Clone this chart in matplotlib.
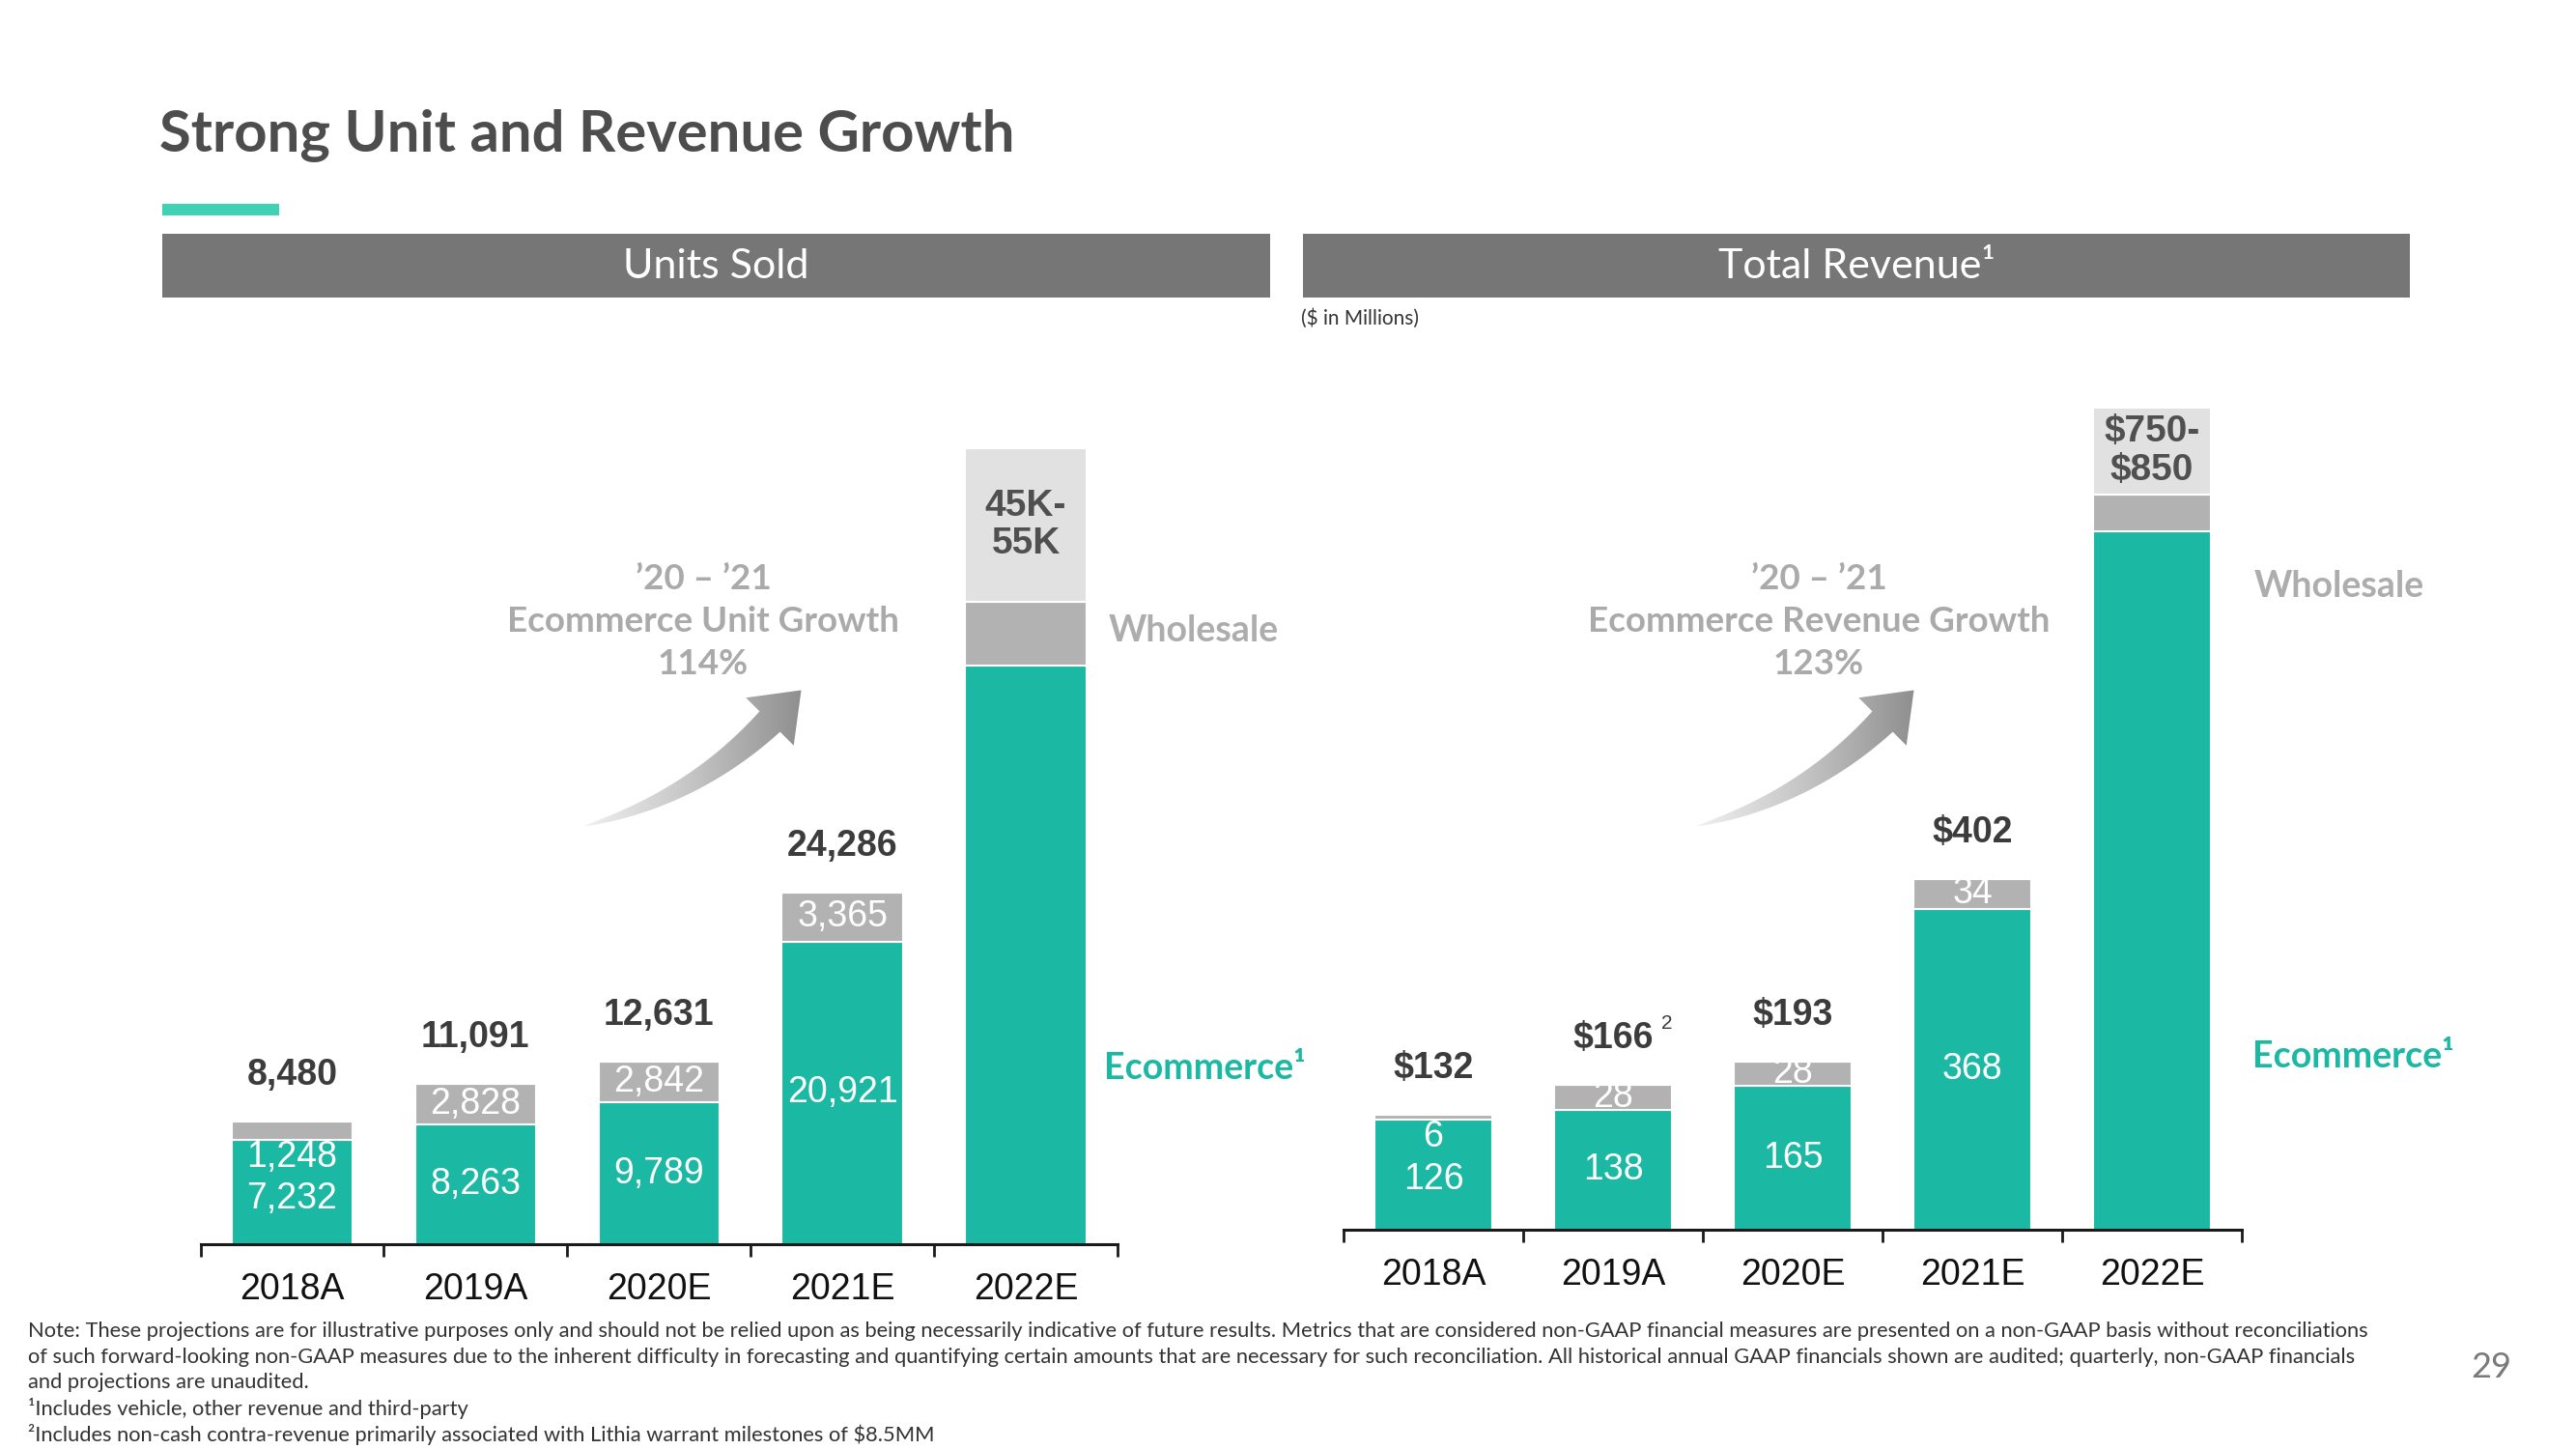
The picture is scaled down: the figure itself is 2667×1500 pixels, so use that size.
import matplotlib
matplotlib.use('Agg')
import matplotlib.pyplot as plt
import numpy as np
from matplotlib.patches import Rectangle, Polygon
from matplotlib.colors import LinearSegmentedColormap

# ---------------- data ----------------
years = ['2018A', '2019A', '2020E', '2021E', '2022E']

units_ecom = [7232, 8263, 9789, 20921, 40000]
units_wholesale = [1248, 2828, 2842, 3365, 4400]
units_range = [0, 0, 0, 0, 10600]
units_total_labels = ['8,480', '11,091', '12,631', '24,286', '45K-\n55K']
units_ecom_labels = ['7,232', '8,263', '9,789', '20,921', '']
units_wh_labels = ['1,248', '2,828', '2,842', '3,365', '']

rev_ecom = [126, 138, 165, 368, 800]
rev_wholesale = [6, 28, 28, 34, 42]
rev_range = [0, 0, 0, 0, 100]
rev_total_labels = ['$132', '$166', '$193', '$402', '$750-\n$850']
rev_ecom_labels = ['126', '138', '165', '368', '']
rev_wh_labels = ['6', '28', '28', '34', '']

title = 'Strong Unit and Revenue Growth'
footnotes = [
    'Note: These projections are for illustrative purposes only and should not be relied upon as being necessarily indicative of future results. Metrics that are considered non-GAAP financial measures are presented on a non-GAAP basis without reconciliations',
    'of such forward-looking non-GAAP measures due to the inherent difficulty in forecasting and quantifying certain amounts that are necessary for such reconciliation. All historical annual GAAP financials shown are audited; quarterly, non-GAAP financials',
    'and projections are unaudited.',
    '\u00b9Includes vehicle, other revenue and third-party',
    '\u00b2Includes non-cash contra-revenue primarily associated with Lithia warrant milestones of $8.5MM',
]

# ---------------- style ----------------
TEAL = '#1bb8a4'
GRAY = '#b2b2b2'
LIGHT = '#e1e1e1'
DARK = '#3c3c3c'
ANN = '#aaaaaa'
NUMFONT = ['Liberation Sans', 'DejaVu Sans']
TXTFONT = ['Lato', 'DejaVu Sans']
NUMSIZE = 27

W, H = 2667, 1500
fig = plt.figure(figsize=(W / 100, H / 100), dpi=100)
fig.patch.set_facecolor('white')

bg = fig.add_axes([0, 0, 1, 1], zorder=0)
bg.axis('off')


def rect(left, bottom, width, height):
    return [left / W, 1 - bottom / H, width / W, height / H]


def draw_chart(ax, ecom, wh, rng, tot_labels, ecom_labels, wh_labels, ymax, small):
    x = np.arange(len(years))
    ecom = np.array(ecom, float)
    wh = np.array(wh, float)
    rng = np.array(rng, float)
    bw = 0.66
    ax.bar(x, ecom, width=bw, color=TEAL, edgecolor='white', linewidth=1.5, zorder=2)
    ax.bar(x, wh, bottom=ecom, width=bw, color=GRAY, edgecolor='white', linewidth=1.5, zorder=2)
    ax.bar(x, rng, bottom=ecom + wh, width=bw, color=LIGHT, edgecolor='white', linewidth=1.5, zorder=2)
    ax.set_xlim(-0.5, 4.5)
    ax.set_ylim(0, ymax)
    ax.patch.set_alpha(0)
    for s in ['top', 'left', 'right']:
        ax.spines[s].set_visible(False)
    ax.spines['bottom'].set_linewidth(2.2)
    ax.spines['bottom'].set_color('#1a1a1a')
    ax.set_yticks([])
    ax.set_xticks(x)
    ax.set_xticklabels(years, fontsize=NUMSIZE, family=NUMFONT, color='#111111')
    ax.tick_params(axis='x', which='major', length=0, pad=21)
    ax.set_xticks(np.arange(-0.5, 5, 1), minor=True)
    ax.tick_params(axis='x', which='minor', length=9, width=2, direction='out', color='#1a1a1a')
    for i in x:
        top = ecom[i] + wh[i]
        if rng[i] > 0:
            ax.text(i, top + rng[i] / 2, tot_labels[i], ha='center', va='center', fontsize=28,
                    fontweight='bold', family=NUMFONT, color='#505050', linespacing=1.12, zorder=3)
        else:
            ax.annotate(tot_labels[i], (i, top), xytext=(0, 34.5), textcoords='offset points',
                        ha='center', va='center', fontsize=NUMSIZE, fontweight='bold', family=NUMFONT,
                        color=DARK, zorder=3)
        if ecom_labels[i]:
            if wh[i] < small:
                ax.annotate(wh_labels[i], (i, ecom[i]), xytext=(0, -13), textcoords='offset points',
                            ha='center', va='center', fontsize=NUMSIZE, family=NUMFONT, color='white', zorder=3)
                ax.annotate(ecom_labels[i], (i, ecom[i]), xytext=(0, -44), textcoords='offset points',
                            ha='center', va='center', fontsize=NUMSIZE, family=NUMFONT, color='white', zorder=3)
            else:
                ax.text(i, ecom[i] / 2, ecom_labels[i], ha='center', va='center', fontsize=NUMSIZE,
                        family=NUMFONT, color='white', zorder=3)
                ax.text(i, ecom[i] + wh[i] / 2, wh_labels[i], ha='center', va='center', fontsize=NUMSIZE,
                        family=NUMFONT, color='white', zorder=3)


ax1 = fig.add_axes(rect(207.5, 1288, 949.5, 898.8), zorder=1)
draw_chart(ax1, units_ecom, units_wholesale, units_range, units_total_labels,
           units_ecom_labels, units_wh_labels, 60000, 2000)

ax2 = fig.add_axes(rect(1391, 1273.3, 930, 904), zorder=1)
draw_chart(ax2, rev_ecom, rev_wholesale, rev_range, rev_total_labels,
           rev_ecom_labels, rev_wh_labels, 1000, 10)
ax2.annotate('2', (1, rev_ecom[1] + rev_wholesale[1]), xytext=(40, 46), textcoords='offset points',
             ha='center', va='center', fontsize=15, family=NUMFONT, color=DARK)

# ---------------- gradient arrows ----------------
cmap = LinearSegmentedColormap.from_list('arr', ['#f0f0f0', '#c4c4c4', '#8f8f8f'])


def arrow(dx):
    P0 = np.array([605.0 + dx, 855.0])
    C = np.array([717.0 + dx, 827.0])
    Hh = np.array([797.0 + dx, 747.0])
    t = np.linspace(0, 1, 60)[:, None]
    B = (1 - t) ** 2 * P0 + 2 * (1 - t) * t * C + t ** 2 * Hh
    T = 2 * (1 - t) * (C - P0) + 2 * t * (Hh - C)
    T = T / np.linalg.norm(T, axis=1, keepdims=True)
    N = np.column_stack([-T[:, 1], T[:, 0]])
    w = 15.0 * t[:, 0] ** 0.75
    s1 = B + N * w[:, None]
    s2 = B - N * w[:, None]
    d = T[-1]
    n = N[-1]
    head = [Hh + n * 35, Hh + d * 46, Hh - n * 35]
    pts = np.vstack([s1, head, s2[::-1]])
    poly = Polygon(pts, closed=True, facecolor='none', edgecolor='none')
    bg.add_patch(poly)
    grad = np.linspace(0, 1, 256)[None, :]
    im = bg.imshow(grad, cmap=cmap, aspect='auto',
                   extent=(pts[:, 0].min(), pts[:, 0].max(), pts[:, 1].max(), pts[:, 1].min()),
                   zorder=1)
    im.set_clip_path(poly)


arrow(0)
arrow(1152)
bg.set_xlim(0, W)
bg.set_ylim(H, 0)

# ---------------- header / decoration ----------------
bg.text(165, 141, title, ha='left', va='center', fontsize=43, fontweight='bold',
        family=TXTFONT, color='#4d4d4d')
bg.add_patch(Rectangle((168, 211), 121, 12, facecolor='#40d2b4', edgecolor='none'))
bg.add_patch(Rectangle((168, 241.5), 1147, 66.5, facecolor='#767676', edgecolor='none'))
bg.add_patch(Rectangle((1349, 241.5), 1146, 66.5, facecolor='#767676', edgecolor='none'))
bg.text(741.5, 276, 'Units Sold', ha='center', va='center', fontsize=31, family=TXTFONT, color='white')
bg.text(1922, 276, 'Total Revenue\u00b9', ha='center', va='center', fontsize=31, family=TXTFONT, color='white')
bg.text(1347, 330, '($ in Millions)', ha='left', va='center', fontsize=15, family=TXTFONT, color='#333333')

for cx, lines in [(728, ['\u201920 \u2013 \u201921', 'Ecommerce Unit Growth', '114%']),
                  (1883, ['\u201920 \u2013 \u201921', 'Ecommerce Revenue Growth', '123%'])]:
    for k, ln in enumerate(lines):
        bg.text(cx, 599 + 44 * k, ln, ha='center', va='center', fontsize=26.5, fontweight='bold',
                family=TXTFONT, color=ANN, zorder=3)

bg.text(1148, 653, 'Wholesale', ha='left', va='center', fontsize=27, fontweight='bold',
        family=TXTFONT, color='#adadad')
bg.text(2334, 607, 'Wholesale', ha='left', va='center', fontsize=27, fontweight='bold',
        family=TXTFONT, color='#adadad')
bg.text(1143, 1106, 'Ecommerce\u00b9', ha='left', va='center', fontsize=27, fontweight='bold',
        family=TXTFONT, color=TEAL)
bg.text(2332, 1094, 'Ecommerce\u00b9', ha='left', va='center', fontsize=27, fontweight='bold',
        family=TXTFONT, color=TEAL)

# footnotes, fitted to the reference width
renderer = fig.canvas.get_renderer()
fts = []
for k, ln in enumerate(footnotes):
    fts.append(bg.text(29, 1378 + 26.7 * k, ln, ha='left', va='center', fontsize=14,
                       family=TXTFONT, color='#333333'))
wpx = fts[0].get_window_extent(renderer).width
size = 14 * 2437 / wpx
for t in fts:
    t.set_fontsize(size)

bg.text(2579, 1415, '29', ha='center', va='center', fontsize=26, family=TXTFONT, color='#7a7a7a')

fig.savefig('out.png', dpi=100, facecolor='white')
